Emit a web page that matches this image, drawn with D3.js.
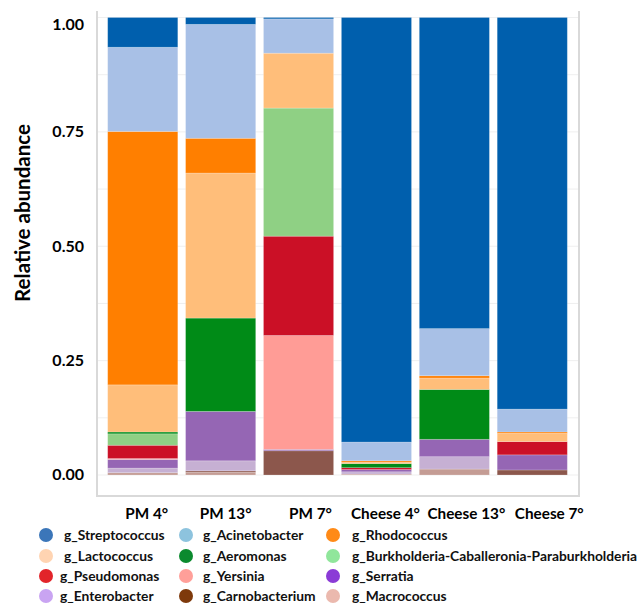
<!DOCTYPE html>
<html>
<head>
<meta charset="utf-8">
<script src="https://cdn.jsdelivr.net/npm/d3@7"></script>
<style>
  html, body { margin: 0; padding: 0; background: #ffffff; }
  svg { display: block; font-family: Lato, "Open Sans", sans-serif; }
</style>
</head>
<body>
<svg id="chart" width="641" height="603"></svg>
<script>
// Samples (x axis)
const samples = ["PM 4°", "PM 13°", "PM 7°", "Cheese 4°", "Cheese 13°", "Cheese 7°"];

// Relative abundance per genus, one value per sample
const streptococcus  = [0.065, 0.015, 0.003, 0.928, 0.680, 0.856];
const acinetobacter  = [0.184, 0.249, 0.075, 0.041, 0.103, 0.050];
const rhodococcus    = [0.554, 0.076, 0.000, 0.003, 0.005, 0.003];
const lactococcus    = [0.103, 0.317, 0.120, 0.003, 0.025, 0.018];
const aeromonas      = [0.004, 0.204, 0.000, 0.009, 0.109, 0.000];
const burkholderia   = [0.025, 0.000, 0.280, 0.000, 0.000, 0.000];
const pseudomonas    = [0.029, 0.000, 0.217, 0.004, 0.000, 0.029];
const yersinia       = [0.002, 0.000, 0.249, 0.000, 0.000, 0.000];
const serratia       = [0.019, 0.108, 0.003, 0.005, 0.038, 0.033];
const enterobacter   = [0.010, 0.022, 0.000, 0.005, 0.027, 0.000];
const carnobacterium = [0.000, 0.003, 0.053, 0.000, 0.000, 0.011];
const macrococcus    = [0.005, 0.006, 0.000, 0.002, 0.013, 0.000];

// Genus names, stacked from the bottom of each bar upward
const genera = [
  "g_Macrococcus", "g_Carnobacterium", "g_Enterobacter", "g_Serratia",
  "g_Yersinia", "g_Pseudomonas", "g_Burkholderia-Caballeronia-Paraburkholderia",
  "g_Aeromonas", "g_Lactococcus", "g_Rhodococcus", "g_Acinetobacter", "g_Streptococcus"
];
const generaValues = [
  macrococcus, carnobacterium, enterobacter, serratia, yersinia, pseudomonas,
  burkholderia, aeromonas, lactococcus, rhodococcus, acinetobacter, streptococcus
];

// Legend entries, read column by column
const legendColumns = [
  ["g_Streptococcus", "g_Lactococcus", "g_Pseudomonas", "g_Enterobacter"],
  ["g_Acinetobacter", "g_Aeromonas", "g_Yersinia", "g_Carnobacterium"],
  ["g_Rhodococcus", "g_Burkholderia-Caballeronia-Paraburkholderia", "g_Serratia", "g_Macrococcus"]
];

const yTicks = [0, 0.25, 0.5, 0.75, 1];
const yGrid = [0, 0.125, 0.25, 0.375, 0.5, 0.625, 0.75, 0.875, 1];

// Fill colours of the bar segments
const barColor = {
  "g_Streptococcus": "#005fad",
  "g_Acinetobacter": "#a8c0e6",
  "g_Rhodococcus": "#ff7f00",
  "g_Lactococcus": "#ffbe7a",
  "g_Aeromonas": "#008b17",
  "g_Burkholderia-Caballeronia-Paraburkholderia": "#8fd084",
  "g_Pseudomonas": "#cb1026",
  "g_Yersinia": "#ff9c96",
  "g_Serratia": "#9566b4",
  "g_Enterobacter": "#c6b0d3",
  "g_Carnobacterium": "#8c574c",
  "g_Macrococcus": "#c49c94"
};
// Colours of the legend keys
const keyColor = {
  "g_Streptococcus": "#3b76b9",
  "g_Acinetobacter": "#8dc3de",
  "g_Rhodococcus": "#ff8a17",
  "g_Lactococcus": "#ffd4b2",
  "g_Aeromonas": "#0b8a2e",
  "g_Burkholderia-Caballeronia-Paraburkholderia": "#90e69b",
  "g_Pseudomonas": "#e2242a",
  "g_Yersinia": "#ff9f99",
  "g_Serratia": "#8b3bd6",
  "g_Enterobacter": "#c9a4f2",
  "g_Carnobacterium": "#7e390b",
  "g_Macrococcus": "#ebb9ae"
};

const svg = d3.select("#chart");

const panel = { left: 97, right: 579, top: 11, bottom: 496 };

const x = d3.scaleBand()
  .domain(samples)
  .range([panel.left - 1, panel.right])
  .paddingInner(0.1)
  .paddingOuter(0.15);

const y = d3.scaleLinear().domain([0, 1]).range([475, 17.5]);

// Grid lines
svg.append("g")
  .selectAll("line")
  .data(yGrid)
  .join("line")
  .attr("x1", panel.left).attr("x2", panel.right)
  .attr("y1", d => y(d)).attr("y2", d => y(d))
  .attr("stroke", "#efefef")
  .attr("stroke-width", 1);

// Stacked bars
const rows = samples.map((s, i) => {
  const row = { sample: s };
  genera.forEach((g, k) => { row[g] = generaValues[k][i]; });
  return row;
});
const series = d3.stack().keys(genera)(rows);

svg.append("g")
  .selectAll("g")
  .data(series)
  .join("g")
  .attr("fill", d => barColor[d.key])
  .selectAll("rect")
  .data(d => d.filter(p => p[1] - p[0] > 0))
  .join("rect")
  .attr("x", d => x(d.data.sample))
  .attr("width", x.bandwidth())
  .attr("y", d => y(d[1]))
  .attr("height", d => y(d[0]) - y(d[1]))
  .attr("stroke", "#ffffff")
  .attr("stroke-opacity", 0.25)
  .attr("stroke-width", 0.8);

// Panel edges
const edge = svg.append("g").attr("stroke", "#d9d9d9").attr("stroke-width", 2).attr("fill", "none");
edge.append("line").attr("x1", panel.left).attr("x2", panel.left).attr("y1", panel.top).attr("y2", panel.bottom);
edge.append("line").attr("x1", panel.right).attr("x2", panel.right).attr("y1", panel.top).attr("y2", panel.bottom);
edge.append("line").attr("x1", panel.left - 1).attr("x2", panel.right + 1).attr("y1", panel.bottom).attr("y2", panel.bottom);

// Y axis labels
const yAxis = svg.append("g")
  .attr("transform", `translate(${panel.left - 13},0)`)
  .call(d3.axisLeft(y).tickValues(yTicks).tickFormat(d3.format(".2f")).tickSize(0).tickPadding(0));
yAxis.select(".domain").remove();
yAxis.selectAll("text")
  .attr("font-family", "Lato, sans-serif")
  .attr("font-size", 16)
  .attr("font-weight", 700)
  .attr("fill", "#000")
  .attr("dy", d => d === 1 ? "0.78em" : "0.3em");

// Y axis title
svg.append("text")
  .attr("transform", `translate(22,213) rotate(-90)`)
  .attr("text-anchor", "middle")
  .attr("dominant-baseline", "central")
  .attr("font-size", 20.5)
  .attr("font-weight", 700)
  .attr("fill", "#000")
  .text("Relative abundance");

// X axis labels
const xLabelNudge = [4, 5, 12, 9, 12, 17];
svg.append("g")
  .selectAll("text")
  .data(samples)
  .join("text")
  .attr("x", (d, i) => x(d) + x.bandwidth() / 2 + xLabelNudge[i])
  .attr("y", 519)
  .attr("text-anchor", "middle")
  .attr("font-size", 15.3)
  .attr("font-weight", 700)
  .attr("fill", "#000")
  .text(d => d);

// Legend
const colX = [{ dot: 46, text: 64 }, { dot: 186, text: 203 }, { dot: 333, text: 352 }];
const rowY = [535, 556, 576, 596];
const legend = svg.append("g");
legendColumns.forEach((col, c) => {
  col.forEach((name, r) => {
    legend.append("circle")
      .attr("cx", colX[c].dot)
      .attr("cy", rowY[r])
      .attr("r", 7)
      .attr("fill", keyColor[name]);
    legend.append("text")
      .attr("x", colX[c].text - (c === 0 && r >= 2 ? 4 : 0))
      .attr("y", rowY[r] - 1)
      .attr("dominant-baseline", "central")
      .attr("font-size", 13.8)
      .attr("font-weight", 700)
      .attr("fill", "#111")
      .text(name);
  });
});
</script>
</body>
</html>
